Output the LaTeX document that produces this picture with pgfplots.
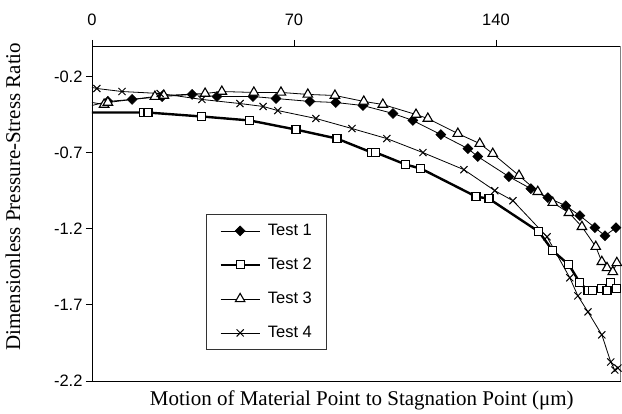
\documentclass[border=0pt]{standalone}
\usepackage{fontspec}
\setmainfont{Liberation Serif}
\newfontfamily\arial{Liberation Sans}
\usepackage{pgfplots}
\pgfplotsset{compat=1.18}

\begin{document}
\begin{tikzpicture}
\begin{axis}[
  scale only axis, width=528bp, height=335bp,
  xmin=0, xmax=183, ymin=-2.2, ymax=0,
  xtick={0,70,140}, ytick={-2.2,-1.7,-1.2,-0.7,-0.2},
  xtick pos=right, xticklabel pos=right, ytick pos=left,
  tick align=outside, major tick length=6bp,
  tick style={black, line width=0.8bp},
  axis line style={line width=0.9bp},
  ticklabel style={font=\arial\fontsize{16.5bp}{19bp}\selectfont},
  xticklabel style={yshift=11bp},
  /pgf/number format/assume math mode=true,
  yticklabel={\pgfmathprintnumber[fixed,fixed zerofill,precision=1]{\tick}},
  xticklabel={\pgfmathprintnumber[fixed,precision=0]{\tick}},
  xlabel={Motion of Material Point to Stagnation Point (μm)},
  ylabel={Dimensionless Pressure-Stress Ratio},
  every axis x label/.style={at={(rel axis cs:0.511,0)}, anchor=center, yshift=-19bp,
    font=\fontsize{21bp}{24bp}\selectfont},
  every axis y label/.style={at={(rel axis cs:0,0.55)}, rotate=90, anchor=center, yshift=79bp,
    font=\fontsize{21bp}{24bp}\selectfont},
  clip=false,
  legend style={at={(rel axis cs:0.216,0.4985)}, anchor=north west,
    draw=black!80, line width=0.8bp,
    font=\arial\fontsize{16.5bp}{19bp}\selectfont,
    row sep=15bp, column sep=5bp, inner xsep=13bp, inner ysep=7bp,
    nodes={text height=12bp, text depth=3bp, inner sep=2bp}},
  legend cell align=left,
  legend image code/.code={\draw[mark repeat=2,mark phase=2] plot coordinates {(0bp,0bp) (19.5bp,0bp) (39bp,0bp)};},
  every axis plot/.append style={mark repeat=1, mark phase=2},
]
\addplot[black, line width=0.8bp, mark=square*, mark size=3.5bp, mark options={rotate=45, fill=black, line width=0.6bp}] coordinates {
(0,-0.391) (5.5,-0.364) (13.9,-0.351) (24.3,-0.332) (34.7,-0.318) (43.3,-0.332) (55.8,-0.332) (63.8,-0.345) (75.5,-0.364) (84.5,-0.371) (93.9,-0.391) (104.3,-0.443) (111.2,-0.489) (120.9,-0.582) (130.3,-0.674) (133.7,-0.726) (144.5,-0.858) (152.1,-0.937) (158.0,-0.996) (164.2,-1.049) (169.1,-1.114) (174.3,-1.193) (177.8,-1.246) (181.6,-1.193)
};
\addlegendentry{Test 1}
\addplot[black, line width=2.4bp, mark=square*, mark size=4bp, mark options={fill=white, line width=1.1bp}] coordinates {
(0,-0.437) (17.7,-0.437) (19.4,-0.437) (38.1,-0.463) (54.7,-0.489) (70.7,-0.549) (84.9,-0.608) (97.0,-0.700) (98.4,-0.700) (108.8,-0.779) (114.0,-0.805) (133.1,-0.989) (137.6,-1.003) (154.9,-1.220) (159.7,-1.345) (165.3,-1.437) (169.1,-1.555) (171.9,-1.608) (173.6,-1.608) (176.7,-1.595) (178.5,-1.608) (179.8,-1.555) (181.9,-1.595)
};
\addlegendentry{Test 2}
\addplot[black, line width=0.8bp, mark=triangle*, mark size=5.5bp, mark options={fill=white, line width=1.1bp}] coordinates {
(0,-0.371) (4.2,-0.384) (5.5,-0.371) (21.8,-0.332) (24.9,-0.325) (39.2,-0.312) (45.0,-0.299) (56.1,-0.305) (65.5,-0.305) (74.8,-0.318) (84.2,-0.325) (94.2,-0.364) (100.8,-0.384) (112.3,-0.450) (116.4,-0.476) (126.8,-0.575) (134.4,-0.641) (138.9,-0.707) (148.0,-0.851) (154.5,-0.957) (159.7,-1.029) (165.3,-1.095) (169.8,-1.187) (174.6,-1.318) (176.7,-1.417) (178.5,-1.457) (180.5,-1.483) (181.9,-1.424)
};
\addlegendentry{Test 3}
\addplot[black, line width=0.8bp, mark=x, mark size=5bp, mark options={line width=1bp}] coordinates {
(0,-0.272) (1.7,-0.279) (10.4,-0.299) (23.6,-0.312) (38.1,-0.351) (51.3,-0.378) (59.3,-0.397) (64.4,-0.424) (77.6,-0.476) (90.1,-0.542) (102.2,-0.608) (114.7,-0.700) (128.9,-0.812) (139.6,-0.950) (145.9,-1.016) (157.7,-1.253) (165.6,-1.522) (168.4,-1.641) (171.9,-1.746) (176.7,-1.897) (179.8,-2.075) (181.2,-2.128) (182.3,-2.115)
};
\addlegendentry{Test 4}
\draw[gray, line width=0.9bp] (rel axis cs:1,0) -- (rel axis cs:1,1);
\end{axis}
\pgfresetboundingbox
\path ([shift={(-92bp,-33bp)}]current axis.south west) rectangle ([shift={(2bp,46bp)}]current axis.north east);
\end{tikzpicture}
\end{document}
